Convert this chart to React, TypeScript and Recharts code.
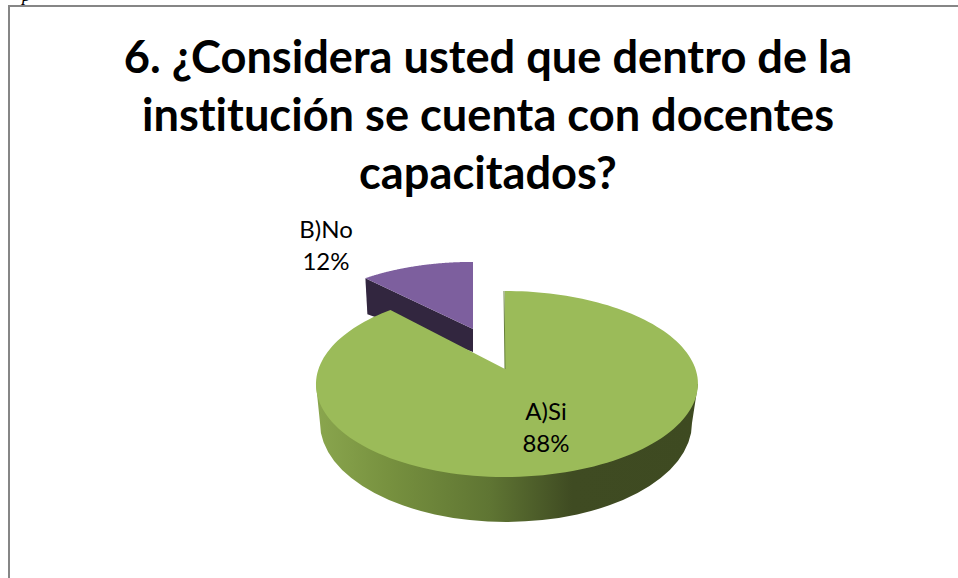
import React from "react";
import { PieChart, Pie } from "recharts";

const categories = ["B)No", "A)Si"];
const values = [12, 88];
const titleLines = [
  "6. ¿Considera usted que dentro de la",
  "institución se cuenta con docentes",
  "capacitados?",
];

const FONT = "Lato, Carlito, 'Open Sans', sans-serif";
const TOP: Record<string, string> = { "A)Si": "#9bbb59", "B)No": "#7d5f9e" };
const B = 0.161; // perspective
const K = 0.4806; // tilt
const RAD = Math.PI / 180;

const EXPLODE: Record<string, { dx: number; dy: number; sx: number; sy: number }> = {
  "A)Si": { dx: 0, dy: 0, sx: 1, sy: 1 },
  "B)No": { dx: -32, dy: -40, sx: 0.94, sy: 0.86 },
};

function project(cx: number, cy: number, r: number, deg: number, name: string) {
  const e = EXPLODE[name];
  const s = Math.sin(deg * RAD);
  const c = Math.cos(deg * RAD);
  const d = 1 + B * s;
  return {
    x: cx + e.dx + (r * e.sx * c) / d + 2 * c * c,
    y: cy + e.dy - (r * K * e.sy * s) / d,
  };
}

function Slice(props: any) {
  const { cx, cy, outerRadius, startAngle, endAngle } = props;
  const name: string = props.name ?? props.payload?.name;
  const e = EXPLODE[name];
  const steps = 160;
  const pts: string[] = [];
  for (let i = 0; i <= steps; i++) {
    const a = startAngle + ((endAngle - startAngle) * i) / steps;
    const p = project(cx, cy, outerRadius, a, name);
    pts.push(`${p.x.toFixed(2)},${p.y.toFixed(2)}`);
  }
  const ax = cx + e.dx;
  const ay = cy + e.dy;
  const top = `M${ax},${ay} L${pts.join(" L")} Z`;

  if (name === "A)Si") {
    const left = cx - 189;
    const right = cx + 193;
    const side = `M${left},${cy + 15} L${cx - 185},${cy + 54} A186 99 0 0 0 ${cx + 187},${cy + 54} L${right},${cy + 15} Z`;
    return (
      <g>
        <defs>
          <linearGradient id="sideGreen" gradientUnits="userSpaceOnUse" x1={left} x2={right} y1={0} y2={0}>
            <stop offset="0" stopColor="#8aa64e" />
            <stop offset="0.19" stopColor="#77913f" />
            <stop offset="0.455" stopColor="#5f7533" />
            <stop offset="0.67" stopColor="#3f4b22" />
            <stop offset="1" stopColor="#3e4a21" />
          </linearGradient>
        </defs>
        <path d={side} fill="url(#sideGreen)" />
        <path d={top} fill={TOP[name]} />
        <line x1={ax} y1={ay} x2={ax - 1} y2={ay - 78} stroke="#66803a" strokeWidth={1} />
      </g>
    );
  }
  const outer = project(cx, cy, outerRadius, startAngle, name);
  const side = `M${outer.x},${outer.y} L${ax},${ay} L${ax},${ay + 23} L${outer.x + 2},${outer.y + 36} Z`;
  return (
    <g>
      <path d={side} fill="#32263f" />
      <path d={top} fill={TOP[name]} />
    </g>
  );
}

const LABEL_POS: Record<string, { dx: number; dy: number }> = {
  "A)Si": { dx: 41, dy: 51 },
  "B)No": { dx: -179, dy: -131 },
};

function renderLabel(props: any) {
  const { cx, cy, percent } = props;
  const name: string = props.name ?? props.payload?.name;
  const p = LABEL_POS[name];
  return (
    <text
      x={cx + p.dx}
      y={cy + p.dy}
      textAnchor="middle"
      fill="#000"
      style={{ fontFamily: FONT, fontSize: 24 }}
    >
      <tspan x={cx + p.dx}>{name}</tspan>
      <tspan x={cx + p.dx} dy={32}>{`${Math.round(percent * 100)}%`}</tspan>
    </text>
  );
}

const data = categories.map((name, i) => ({ name, value: values[i] }));
const TITLE_Y = [73, 131, 189];

export default function App() {
  return (
    <div style={{ position: "fixed", left: 0, top: 0, width: 958, height: 578, overflow: "hidden", background: "#fff" }}>
      <div
        style={{
          position: "absolute",
          left: 8,
          top: 5,
          width: 980,
          height: 600,
          border: "2px solid #868686",
          boxSizing: "border-box",
        }}
      />
      <div style={{ position: "absolute", left: 22, top: -15, fontFamily: "'Liberation Serif', serif", fontStyle: "italic", fontSize: 18, lineHeight: "20px" }}>
        p
      </div>
      <div style={{ position: "absolute", left: 0, top: 0 }}>
        <PieChart width={958} height={578} margin={{ top: 0, right: 0, bottom: 0, left: 0 }}>
          <text
            textAnchor="middle"
            style={{ fontFamily: FONT, fontWeight: 700, fontSize: 45.2, fontVariantLigatures: "none" }}
            fill="#000"
          >
            {titleLines.map((t, i) => (
              <tspan key={t} x={488} y={TITLE_Y[i]}>
                {t}
              </tspan>
            ))}
          </text>
          <Pie
            data={data}
            dataKey="value"
            nameKey="name"
            cx={505}
            cy={369}
            outerRadius={188.5}
            startAngle={133.2}
            endAngle={-226.8}
            stroke="none"
            isAnimationActive={false}
            shape={Slice}
            label={renderLabel}
            labelLine={false}
          />
        </PieChart>
      </div>
    </div>
  );
}
